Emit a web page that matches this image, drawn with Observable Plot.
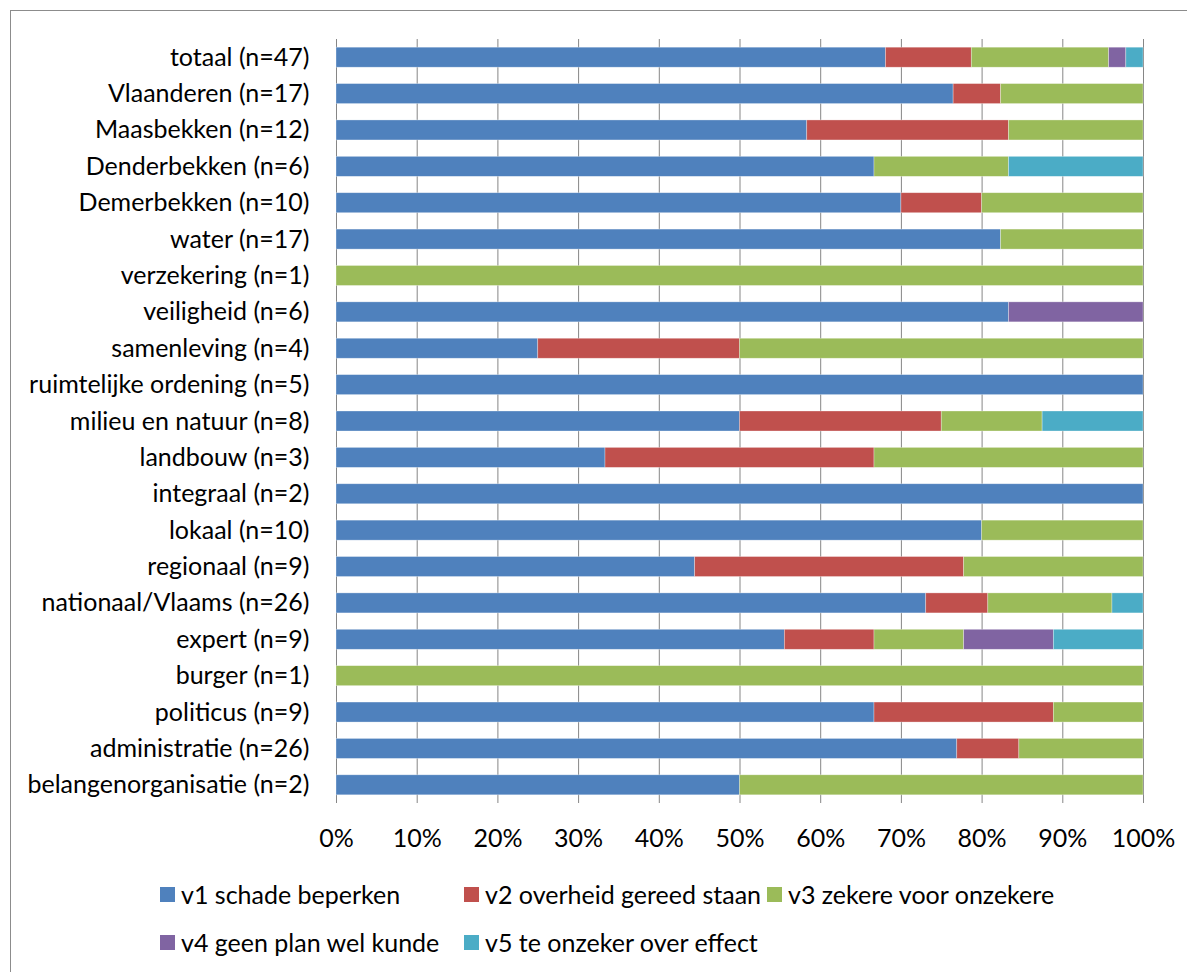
<!DOCTYPE html>
<html>
<head>
<meta charset="utf-8">
<script src="https://cdn.jsdelivr.net/npm/d3@7"></script>
<script src="https://cdn.jsdelivr.net/npm/@observablehq/plot@0.6"></script>
<style>
  html, body { margin: 0; padding: 0; background: #fff; overflow: hidden; }
  body { width: 1187px; height: 972px; position: relative; font-family: Lato, "Open Sans", sans-serif; }
  #frame { position: absolute; left: 10px; top: 10px; width: 1300px; height: 1100px;
           border-top: 1.5px solid #8c8c8c; border-left: 1.5px solid #8c8c8c; }
  #chart { position: absolute; left: 0; top: 0; }
  #legend { position: absolute; left: 160px; top: 879px; width: 1000px; font-size: 25px; color: #000; }
  .item { position: absolute; display: flex; align-items: center; white-space: nowrap; height: 30px; }
  .sw { width: 15px; height: 15px; margin-right: 6px; }
</style>
</head>
<body>
<div id="frame"></div>
<div id="chart"></div>
<div id="legend"></div>
<script>
// Categories (top to bottom)
const categories = [
  "totaal (n=47)", "Vlaanderen (n=17)", "Maasbekken (n=12)", "Denderbekken (n=6)",
  "Demerbekken (n=10)", "water (n=17)", "verzekering (n=1)", "veiligheid (n=6)",
  "samenleving (n=4)", "ruimtelijke ordening (n=5)", "milieu en natuur (n=8)",
  "landbouw (n=3)", "integraal (n=2)", "lokaal (n=10)", "regionaal (n=9)",
  "nationaal/Vlaams (n=26)", "expert (n=9)", "burger (n=1)", "politicus (n=9)",
  "administratie (n=26)", "belangenorganisatie (n=2)"
];
const seriesNames = [
  "v1 schade beperken", "v2 overheid gereed staan", "v3 zekere voor onzekere",
  "v4 geen plan wel kunde", "v5 te onzeker over effect"
];
const seriesColors = ["#4F81BD", "#C0504D", "#9BBB59", "#8064A2", "#4BACC6"];

// Counts per category (same order as categories)
const v1 = [32, 13, 7, 4, 7, 14, 0, 5, 1, 5, 4, 1, 2, 8, 4, 19, 5, 0, 6, 20, 1];
const v2 = [ 5,  1, 3, 0, 1,  0, 0, 0, 1, 0, 2, 1, 0, 0, 3,  2, 1, 0, 2,  2, 0];
const v3 = [ 8,  3, 2, 1, 2,  3, 1, 0, 2, 0, 1, 1, 0, 2, 2,  4, 1, 1, 1,  4, 1];
const v4 = [ 1,  0, 0, 0, 0,  0, 0, 1, 0, 0, 0, 0, 0, 0, 0,  0, 1, 0, 0,  0, 0];
const v5 = [ 1,  0, 0, 1, 0,  0, 0, 0, 0, 0, 1, 0, 0, 0, 0,  1, 1, 0, 0,  0, 0];
const xTicks = [0, 0.1, 0.2, 0.3, 0.4, 0.5, 0.6, 0.7, 0.8, 0.9, 1];

const seriesValues = [v1, v2, v3, v4, v5];
const rows = [];
categories.forEach((c, i) => {
  seriesValues.forEach((vals, s) => {
    rows.push({category: c, series: seriesNames[s], value: vals[i]});
  });
});

const chart = Plot.plot({
  width: 1187,
  height: 860,
  marginLeft: 336,
  marginRight: 44,
  marginTop: 39,
  marginBottom: 57,
  style: {fontFamily: "Lato, 'Open Sans', sans-serif", fontSize: "25px", color: "#000", background: "transparent"},
  x: {domain: [0, 1], ticks: xTicks, tickFormat: d3.format(".0%"), label: null, tickSize: 0, tickPadding: 26},
  y: {domain: categories, paddingInner: 0.45, paddingOuter: 0.225, round: false, label: null, tickSize: 0, tickPadding: 27},
  color: {domain: seriesNames, range: seriesColors},
  marks: [
    Plot.gridX(xTicks, {stroke: "#868686", strokeOpacity: 1, strokeWidth: 1}),
    Plot.barX(rows, Plot.stackX({
      x: "value", y: "category", fill: "series", offset: "normalize", order: null,
      filter: d => d.value > 0,
      stroke: "#ffffff", strokeOpacity: 0.45, strokeWidth: 0.7
    })),
    Plot.axisX({ticks: xTicks, tickFormat: d3.format(".0%"), tickSize: 0, tickPadding: 26, fontSize: 25}),
    Plot.axisY({tickSize: 0, tickPadding: 27, fontSize: 25})
  ]
});
document.getElementById("chart").appendChild(chart);

// Legend
const legend = document.getElementById("legend");
const positions = [[0, 0], [304, 0], [607, 0], [0, 48], [304, 48]];
seriesNames.forEach((name, i) => {
  const it = document.createElement("div");
  it.className = "item";
  it.style.left = positions[i][0] + "px";
  it.style.top = positions[i][1] + "px";
  const sw = document.createElement("span");
  sw.className = "sw";
  sw.style.background = seriesColors[i];
  const tx = document.createElement("span");
  tx.textContent = name;
  it.appendChild(sw);
  it.appendChild(tx);
  legend.appendChild(it);
});
</script>
</body>
</html>
